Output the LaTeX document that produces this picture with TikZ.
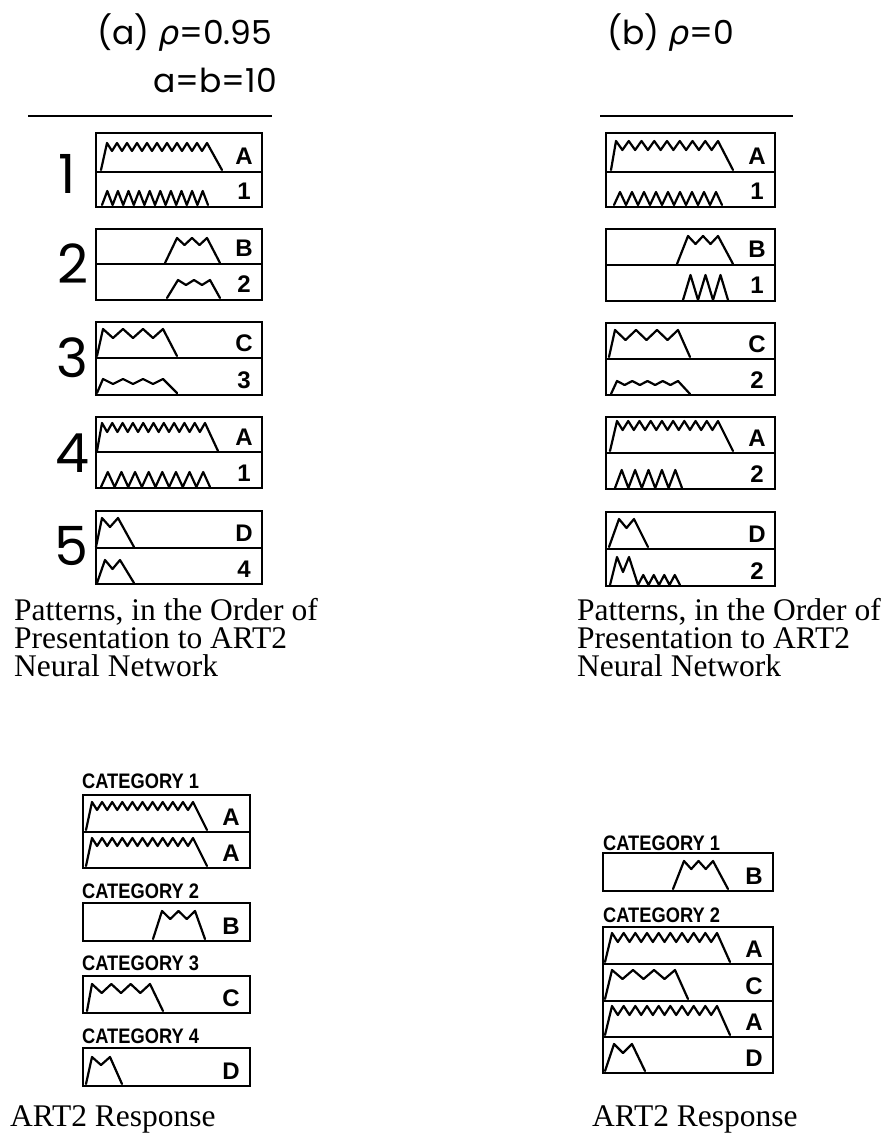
\documentclass[tikz,border=0pt]{standalone}
\usepackage{fontspec}
\setmainfont{Liberation Serif}
\newfontfamily\titlefont{Poppins}
\newfontfamily\greekfont{DejaVu Sans}
\newfontfamily\lblfont{Liberation Sans}
\tikzset{
  frame/.style={line width=2.6pt},
  wave/.style={line width=2.2pt, line join=round, line cap=round},
  rulestyle/.style={line width=2.2pt},
  lbl/.style={font=\lblfont\bfseries\fontsize{24}{24}\selectfont, inner sep=0pt, anchor=base},
  cat/.style={font=\lblfont\bfseries\fontsize{21}{21}\selectfont, inner sep=0pt, anchor=base west},
  bignum/.style={font=\titlefont\fontsize{54}{54}\selectfont, inner sep=0pt, anchor=center},
  capt/.style={font=\fontsize{31.5}{28}\selectfont, inner sep=0pt, anchor=north west, align=left},
  ttl/.style={font=\titlefont\fontsize{33}{33}\selectfont, inner sep=0pt},
}
\newcommand\plat[8]{%
  \pgfmathsetmacro\dxh{(#5-#3)/#7/2}%
  \draw[wave] (#1,#2) -- (#3,#4) \foreach \i in {1,...,#7}{ -- ++(\dxh,#8) -- ++(\dxh,-#8)} -- (#6,#2);}
\newcommand\spk[5]{%
  \pgfmathsetmacro\dxh{(#2-#1)/#5/2}\pgfmathsetmacro\hh{#3-#4}%
  \draw[wave] (#1,#3) \foreach \i in {1,...,#5}{ -- ++(\dxh,-\hh) -- ++(\dxh,\hh)};}
\newcommand\patbox[4]{\draw[frame] (#1,#2) rectangle (#3,#4);}
\newcommand\divln[3]{\draw[frame] (#1,#3) -- (#2,#3);}
\newcommand\cattext[1]{\scalebox{0.87}[1]{#1}}
\begin{document}
\begin{tikzpicture}[x=1pt,y=-1pt]
\useasboundingbox (0,0) rectangle (890,1139);
% titles
\node[ttl, anchor=base west] (ta) at (97,45) {(a) {\greekfont\itshape ρ}=0.95};
\node[ttl, anchor=base east] (tab) at (277,93) {a=b=10};
\node[ttl, anchor=base west] (tb) at (607,45) {(b) {\greekfont\itshape ρ}=0};
\draw[rulestyle] (28,116) -- (272,116);
\draw[rulestyle] (600,116) -- (793,116);
% left numbers
\node[bignum] (n1) at (67,174) {1};
\node[bignum] (n2) at (73,264) {2};
\node[bignum] (n3) at (72,358) {3};
\node[bignum] (n4) at (72,453) {4};
\node[bignum] (n5) at (71,546) {5};
% ---- left pattern boxes
\patbox{96}{133}{262}{207}\divln{96}{262}{172}
\patbox{96}{229}{262}{300}\divln{96}{262}{264}
\patbox{96}{322}{262}{395}\divln{96}{262}{358}
\patbox{96}{417}{262}{488}\divln{96}{262}{452}
\patbox{96}{511}{262}{584}\divln{96}{262}{548}
\node[lbl] (la1) at (244,165) {A};
\node[lbl] (la2) at (244,200) {1};
\node[lbl] (lb1) at (244,257) {B};
\node[lbl] (lb2) at (244,293) {2};
\node[lbl] (lc1) at (244,351) {C};
\node[lbl] (lc2) at (244,388) {3};
\node[lbl] (ld1) at (244,445) {A};
\node[lbl] (ld2) at (244,481) {1};
\node[lbl] (le1) at (244,541) {D};
\node[lbl] (le2) at (244,577) {4};
\plat{101}{170}{107}{143}{207}{222}{10}{8}
\spk{102}{208}{205}{191}{10}
\plat{165}{263}{177}{238}{207}{220}{2}{7}
\plat{167}{298}{178}{280}{210}{220}{2}{5}
\plat{97}{356}{103}{329}{163}{177}{3}{9}
\plat{97}{393}{103}{379}{163}{177}{3}{5}
\plat{97}{451}{102}{423}{205}{218}{10}{9}
\spk{101}{210}{487}{472}{8}
\plat{96}{547}{102}{518}{118}{134}{1}{9}
\plat{97}{583}{105}{560}{120}{134}{1}{9}
% ---- right pattern boxes
\patbox{606}{133}{775}{207}\divln{606}{775}{172}
\patbox{606}{229}{775}{301}\divln{606}{775}{265}
\patbox{606}{323}{775}{395}\divln{606}{775}{359}
\patbox{606}{417}{775}{489}\divln{606}{775}{453}
\patbox{606}{512}{775}{586}\divln{606}{775}{549}
\node[lbl] (ra1) at (757,165) {A};
\node[lbl] (ra2) at (757,200) {1};
\node[lbl] (rb1) at (757,258) {B};
\node[lbl] (rb2) at (757,294) {1};
\node[lbl] (rc1) at (757,352) {C};
\node[lbl] (rc2) at (757,388) {2};
\node[lbl] (rd1) at (757,446) {A};
\node[lbl] (rd2) at (757,482) {2};
\node[lbl] (re1) at (757,542) {D};
\node[lbl] (re2) at (757,579) {2};
\plat{611}{170}{616}{141}{718}{733}{8}{9}
\spk{614}{722}{205}{192}{9}
\plat{677}{264}{688}{236}{718}{733}{2}{8}
\spk{683}{728}{300}{275}{3}
\plat{609}{357}{615}{330}{678}{690}{3}{10}
\plat{611}{394}{617}{381}{678}{690}{4}{4}
\plat{610}{451}{617}{421}{718}{733}{9}{9}
\spk{615}{682}{488}{470}{5}
\plat{609}{547}{619}{519}{634}{648}{1}{9}
\draw[wave] (610,585) -- (617,557) -- (623,572) -- (629,557) -- (638,585);
\spk{638}{680}{585}{575}{4}
% captions
\node[capt] (cl) at (14,598.5) {Patterns, in the Order of\\Presentation to ART2\\Neural Network};
\node[capt] (cr) at (577,598.5) {Patterns, in the Order of\\Presentation to ART2\\Neural Network};
% ---- bottom left: ART2 response
\node[cat] (lk1) at (82,788) {\cattext{CATEGORY 1}};
\node[cat] (lk2) at (82,898) {\cattext{CATEGORY 2}};
\node[cat] (lk3) at (82,970) {\cattext{CATEGORY 3}};
\node[cat] (lk4) at (82,1043) {\cattext{CATEGORY 4}};
\patbox{83}{795}{250}{868}\divln{83}{250}{832}
\patbox{83}{903}{250}{941}
\patbox{83}{976}{250}{1013}
\patbox{83}{1048}{250}{1086}
\node[lbl] (lr1) at (231,825) {A};
\node[lbl] (lr2) at (231,861) {A};
\node[lbl] (lr3) at (231,934) {B};
\node[lbl] (lr4) at (231,1006) {C};
\node[lbl] (lr5) at (231,1079) {D};
\plat{86}{830}{92}{802}{193}{207}{10}{8}
\plat{86}{866}{92}{838}{193}{207}{10}{8}
\plat{153}{939}{162}{911}{195}{205}{2}{8}
\plat{87}{1011}{92}{984}{150}{163}{3}{9}
\plat{86}{1084}{92}{1057}{110}{122}{1}{8}
\node[capt, anchor=base west] (al) at (10,1126) {ART2 Response};
% ---- bottom right: ART2 response
\node[cat] (rk1) at (603,850) {\cattext{CATEGORY 1}};
\node[cat] (rk2) at (603,922) {\cattext{CATEGORY 2}};
\patbox{603}{853}{773}{891}
\patbox{603}{927}{773}{1073}
\divln{603}{773}{964}\divln{603}{773}{1001}\divln{603}{773}{1037}
\node[lbl] (rr1) at (754,884) {B};
\node[lbl] (rr2) at (754,957) {A};
\node[lbl] (rr3) at (754,994) {C};
\node[lbl] (rr4) at (754,1030) {A};
\node[lbl] (rr5) at (754,1066) {D};
\plat{673}{889}{684}{861}{713}{728}{2}{8}
\plat{605}{962}{612}{933}{717}{730}{9}{9}
\plat{605}{999}{612}{970}{675}{688}{3}{9}
\plat{605}{1035}{612}{1006}{717}{730}{9}{9}
\plat{605}{1071}{614}{1044}{632}{645}{1}{9}
\node[capt, anchor=base west] (ar) at (592,1126) {ART2 Response};
\end{tikzpicture}
\end{document}
